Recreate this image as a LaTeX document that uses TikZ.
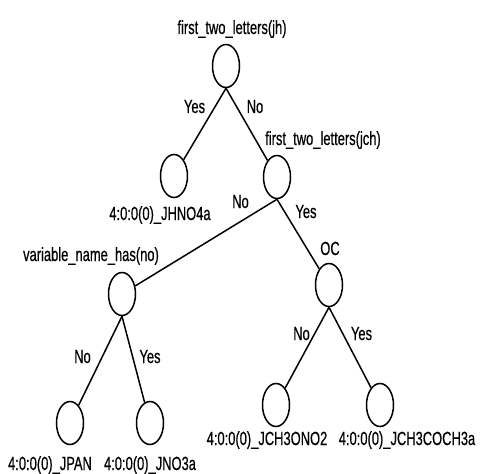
\documentclass[tikz,border=0pt]{standalone}
\usepackage{fontspec}
\setmainfont{Liberation Sans}
\newfontfamily\lblfont[FakeBold=0.6]{Liberation Sans}
\usetikzlibrary{shapes.geometric}
\tikzset{
  tnode/.style={ellipse, draw, line width=1.5pt, minimum width=27pt, minimum height=43pt, inner sep=0pt},
  edge/.style={line width=1.5pt},
  txt/.style={font=\lblfont\fontsize{19}{21}\selectfont, inner sep=0pt, anchor=base, xscale=0.68}
}
\begin{document}
\begin{tikzpicture}[x=1pt,y=-1pt]
\useasboundingbox (0,0) rectangle (481,473);
% tree nodes
\node[tnode] (root) at (226,66) {};
\node[tnode] (l1) at (174,176) {};
\node[tnode] (jch) at (277,177) {};
\node[tnode] (var) at (122,294) {};
\node[tnode] (oc) at (329,285) {};
\node[tnode] (jpan) at (70,423) {};
\node[tnode] (jno) at (150,423) {};
\node[tnode] (ono) at (276,405) {};
\node[tnode] (coch) at (380,405) {};
% connectors
\draw[edge] (root.south) -- (l1);
\draw[edge] (root.south) -- (jch);
\draw[edge] (jch.south) -- (var);
\draw[edge] (jch.south) -- (oc);
\draw[edge] (var.south) -- (jpan);
\draw[edge] (var.south) -- (jno);
\draw[edge] (oc.south) -- (ono);
\draw[edge] (oc.south) -- (coch);
% node labels
\node[txt] (troot) at (232,34) {first\_two\_letters(jh)};
\node[txt] (tl1) at (160,220) {4:0:0(0)\_JHNO4a};
\node[txt] (tjch) at (323,145) {first\_two\_letters(jch)};
\node[txt] (tvar) at (91,261) {variable\_name\_has(no)};
\node[txt] (toc) at (330,255) {OC};
\node[txt] (tjpan) at (50,470) {4:0:0(0)\_JPAN};
\node[txt] (tjno) at (150,470) {4:0:0(0)\_JNO3a};
\node[txt] (tono) at (267,445) {4:0:0(0)\_JCH3ONO2};
\node[txt] (tcoch) at (407,445) {4:0:0(0)\_JCH3COCH3a};
% edge labels
\node[txt] (e1) at (194.5,113) {Yes};
\node[txt] (e2) at (255,113) {No};
\node[txt] (e3) at (240.5,208) {No};
\node[txt] (e4) at (306,218) {Yes};
\node[txt] (e5) at (82.5,363) {No};
\node[txt] (e6) at (150,363) {Yes};
\node[txt] (e7) at (301.5,340) {No};
\node[txt] (e8) at (361.5,340) {Yes};
\end{tikzpicture}
\end{document}
